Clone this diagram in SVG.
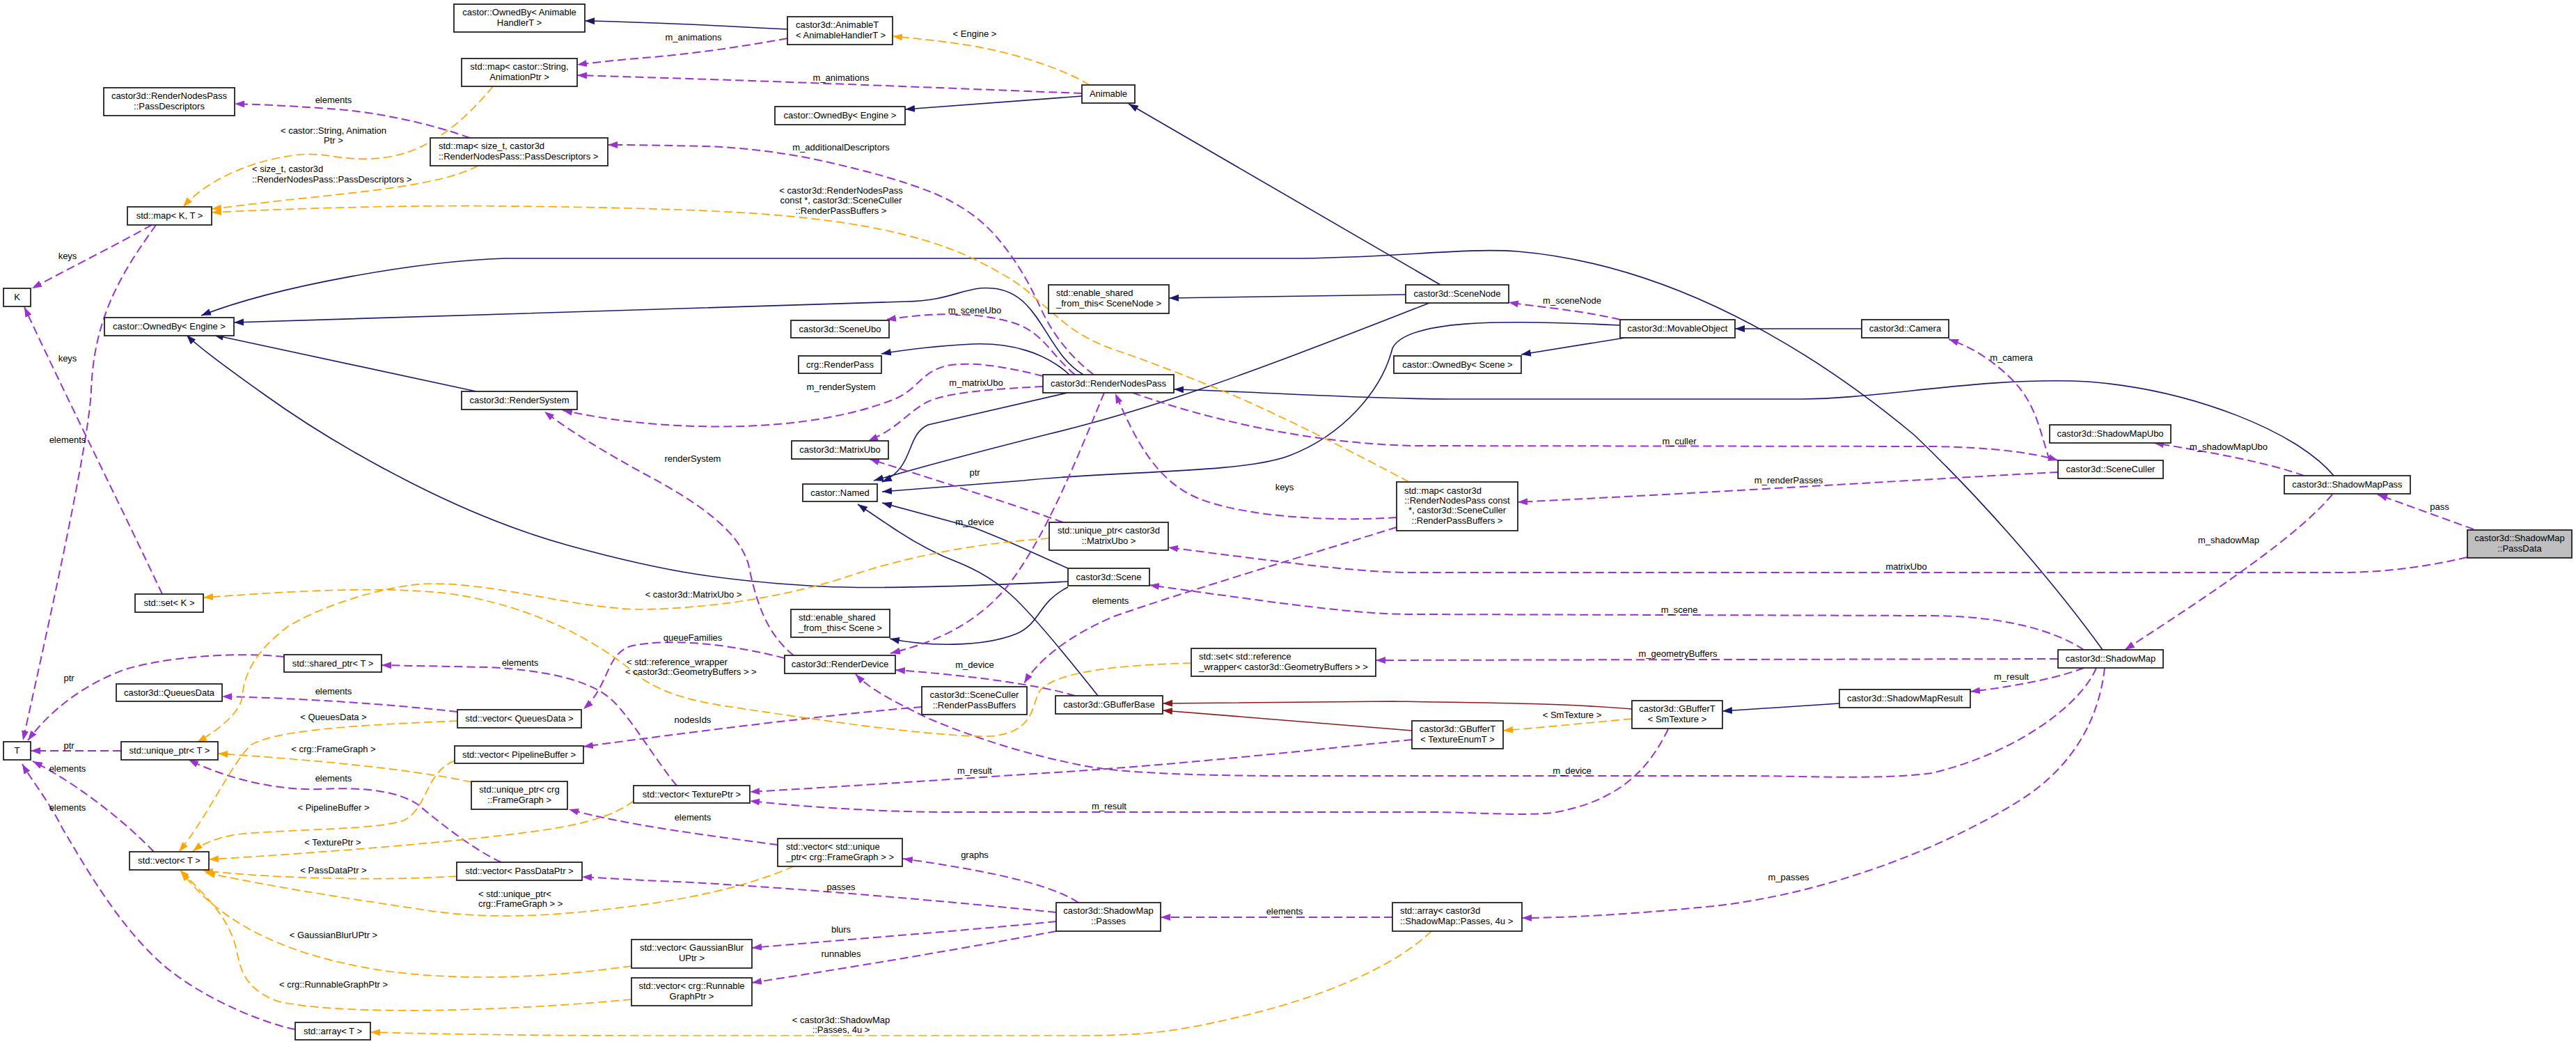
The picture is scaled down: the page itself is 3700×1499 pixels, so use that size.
<svg xmlns="http://www.w3.org/2000/svg" width="3700" height="1499" viewBox="0 0 3700 1499">
<style>
.n rect{fill:#fff;stroke:#222;stroke-width:1.8}
.n.hl rect{fill:#bfbfbf}
text{font-family:"Liberation Sans",Arial,sans-serif;font-size:13px;fill:#000}
.n text,.lb{text-anchor:middle}
.n text.l,.lb.l{text-anchor:start}
.e path{fill:none}
.inh{stroke:#191970;stroke-width:1.6;marker-end:url(#aN)}
.prot{stroke:#8b1a1a;stroke-width:1.6;marker-end:url(#aR)}
.use{stroke:#9a32cd;stroke-width:2;stroke-dasharray:12,6;marker-end:url(#aP)}
.tpl{stroke:#ffa500;stroke-width:1.7;stroke-dasharray:12,6;marker-end:url(#aO)}
</style>
<defs>
<marker id="aN" markerUnits="userSpaceOnUse" markerWidth="15" markerHeight="11" refX="14" refY="5" orient="auto"><path d="M0,0L14,5L0,10z" fill="#191970"/></marker>
<marker id="aR" markerUnits="userSpaceOnUse" markerWidth="15" markerHeight="11" refX="14" refY="5" orient="auto"><path d="M0,0L14,5L0,10z" fill="#8b1a1a"/></marker>
<marker id="aP" markerUnits="userSpaceOnUse" markerWidth="15" markerHeight="11" refX="14" refY="5" orient="auto"><path d="M0,0L14,5L0,10z" fill="#9a32cd"/></marker>
<marker id="aO" markerUnits="userSpaceOnUse" markerWidth="15" markerHeight="11" refX="14" refY="5" orient="auto"><path d="M0,0L14,5L0,10z" fill="#ffa500"/></marker>
</defs>
<rect width="3700" height="1499" fill="#fff"/>

<g id="connectors" class="e">
<!-- inheritance -->
<path class="inh" d="M1131,42 C1000,35 900,31 840,30"/>
<path class="inh" d="M1554,138 L1300,157"/>
<path class="inh" d="M2069,409 L1621,149"/>
<path class="inh" d="M2019,423 L1679,428"/>
<path class="inh" d="M2053,435 Q1850,515 1732,556 Q1615,597 1507,623 Q1400,650 1327,670 L1255,690"/>
<path class="inh" d="M1533,564 L1333,610 C1300,625 1315,670 1267,692"/>
<path class="inh" d="M2327,467 C2150,458 2020,460 2000,500 C1985,560 1930,625 1850,655 C1780,680 1600,676 1470,690 L1267,706"/>
<path class="inh" d="M1534,816 Q1491,797 1465,785 Q1438,773 1400,758 L1267,722"/>
<path class="inh" d="M1577,999 Q1485,883 1452,854 Q1420,825 1375,807 Q1330,790 1281,757 L1232,724"/>
<path class="inh" d="M1534,835 Q1279,847 1181,842 Q1084,837 1004,825 Q925,813 816,783 Q708,753 590,693 Q472,633 379,566 Q286,500 268,481"/>
<path class="inh" d="M684,562 L307,481"/>
<path class="inh" d="M1556,538 C1500,505 1495,420 1426,414 C1385,410 1370,432 1300,433 L336,463"/>
<path class="inh" d="M1536,538 C1500,505 1450,492 1397,494 C1340,497 1300,502 1266,508"/>
<path class="inh" d="M3020,933 C2960,850 2860,730 2750,625 C2600,500 2400,380 2180,361 C2100,355 2000,371 1850,371 L726,371 C600,375 400,410 289,453"/>
<path class="inh" d="M3352,683 C3300,620 3150,560 3000,548 C2850,540 2700,573 2587,573 L2086,573 C1950,573 1800,562 1686,559"/>
<path class="inh" d="M2674,472 L2492,472"/>
<path class="inh" d="M2334,485 L2185,509"/>
<path class="inh" d="M1534,843 C1490,865 1495,895 1460,910 C1410,930 1330,928 1278,917"/>
<path class="inh" d="M2642,1010 L2474,1021"/>
<path class="prot" d="M2344,1018 C2250,1010 2150,1009 2000,1007 L1670,1010"/>
<path class="prot" d="M2028,1049 L1670,1020"/>
<!-- usage -->
<path class="use" d="M1131,55 C1060,68 990,78 925,83 C880,87 850,90 829,93"/>
<path class="use" d="M1554,134 C1400,128 1100,116 925,111 L829,108"/>
<path class="use" d="M675,198 C620,178 540,160 472,156 C420,152 370,150 337,149"/>
<path class="use" d="M1571,538 Q1521,500 1494,441 Q1468,383 1432,341 Q1397,300 1338,276 Q1279,253 1190,233 Q1102,213 1013,210 Q925,208 873,208"/>
<path class="use" d="M218,323 C170,350 100,385 46,414"/>
<path class="use" d="M224,323 C180,385 135,450 131,560 C128,640 60,940 33,1063"/>
<path class="use" d="M233,853 C180,740 100,580 35,441"/>
<path class="use" d="M408,943 C330,935 230,945 177,962 C130,980 80,1010 40,1063"/>
<path class="use" d="M174,1078 L44,1078"/>
<path class="use" d="M221,1223 C190,1190 120,1130 47,1093"/>
<path class="use" d="M424,1478 C390,1472 300,1440 236,1387 C170,1330 120,1240 90,1190 C70,1150 45,1120 32,1097"/>
<path class="use" d="M972,1128 C940,1090 900,1020 873,1000 C840,975 780,962 700,958 L548,955"/>
<path class="use" d="M657,1022 C550,1010 420,1002 319,1000"/>
<path class="use" d="M1127,945 C1050,925 960,915 905,928 C870,940 875,985 838,1018"/>
<path class="use" d="M1140,941 C1100,910 1085,860 1075,810 C1060,760 1000,720 925,680 C870,650 820,620 782,591"/>
<path class="use" d="M1498,540 C1450,528 1400,518 1360,525 C1320,535 1320,560 1280,575 C1200,605 1100,615 1000,612 C920,610 860,600 808,589"/>
<path class="use" d="M1498,555 C1440,558 1360,562 1330,578 C1300,595 1290,615 1247,633"/>
<path class="use" d="M1544,538 C1510,510 1500,480 1460,465 C1400,445 1330,450 1273,459"/>
<path class="use" d="M1586,564 C1550,650 1500,780 1440,850 C1390,905 1330,925 1279,938"/>
<path class="use" d="M1527,750 C1450,722 1330,685 1249,659"/>
<path class="use" d="M3544,800 C3480,815 3420,822 3360,822 L2027,822 C1950,822 1850,808 1678,786"/>
<path class="use" d="M2993,933 C2950,905 2880,885 2775,884 L2027,882 C1950,882 1850,868 1651,840"/>
<path class="use" d="M2956,946 L1976,948"/>
<path class="use" d="M2993,959 C2960,972 2900,985 2830,993"/>
<path class="use" d="M3011,959 C2990,1010 2900,1080 2775,1110 C2700,1120 2600,1114 2500,1114 L1850,1114 C1700,1114 1600,1108 1560,1100 C1480,1085 1400,1060 1330,1030 C1280,1005 1250,990 1229,968"/>
<path class="use" d="M3023,959 C3015,1030 2980,1100 2900,1150 C2780,1225 2600,1290 2440,1303 C2350,1312 2250,1318 2186,1318"/>
<path class="use" d="M1544,999 C1500,985 1400,970 1286,962"/>
<path class="use" d="M2028,1062 C1900,1075 1700,1098 1500,1110 C1350,1120 1200,1130 1077,1137"/>
<path class="use" d="M2396,1047 C2370,1100 2330,1150 2230,1167 C2180,1172 2120,1166 2050,1166 L1350,1166 C1250,1165 1150,1158 1077,1150"/>
<path class="use" d="M1324,1015 C1200,1025 1000,1050 838,1072"/>
<path class="use" d="M2006,757 C1900,790 1700,850 1600,885 C1530,915 1490,950 1471,981"/>
<path class="use" d="M2006,743 C1900,750 1780,740 1720,715 C1660,690 1630,630 1602,565"/>
<path class="use" d="M1627,564 C1700,590 1850,635 2027,640 L2775,641 C2860,642 2920,650 2956,661"/>
<path class="use" d="M2956,678 C2800,686 2500,705 2180,721"/>
<path class="use" d="M2944,661 C2930,620 2925,580 2890,545 C2860,515 2830,498 2799,487"/>
<path class="use" d="M2327,459 C2270,445 2200,440 2167,434"/>
<path class="use" d="M3309,683 C3260,665 3180,650 3094,636"/>
<path class="use" d="M3553,760 L3415,710"/>
<path class="use" d="M3350,710 C3300,770 3180,850 3052,933"/>
<path class="use" d="M1549,1296 C1510,1270 1420,1250 1297,1233"/>
<path class="use" d="M1517,1310 C1400,1298 1100,1270 925,1264 L836,1259"/>
<path class="use" d="M1517,1323 C1400,1335 1200,1350 1080,1361"/>
<path class="use" d="M1517,1337 C1420,1355 1250,1385 1080,1411"/>
<path class="use" d="M2000,1317 L1667,1317"/>
<path class="use" d="M1117,1213 C1020,1200 900,1185 817,1162"/>
<path class="use" d="M720,1238 C680,1220 630,1180 600,1155 C570,1135 520,1130 460,1133 C400,1135 330,1120 271,1091"/>
<!-- template -->
<path class="tpl" d="M1565,122 C1520,95 1450,75 1397,66 C1350,58 1310,55 1282,52"/>
<path class="tpl" d="M708,124 C670,170 620,215 560,225 C500,235 470,218 430,222 C370,228 300,255 263,297"/>
<path class="tpl" d="M687,238 C640,262 560,272 413,287 C370,292 330,297 304,300"/>
<path class="tpl" d="M2024,692 Q1850,600 1756,561 Q1662,523 1612,506 Q1562,490 1531,465 Q1500,440 1478,420 Q1456,400 1397,371 Q1338,343 1249,326 Q1161,310 1043,304 Q925,298 728,296 Q531,294 304,305"/>
<path class="tpl" d="M657,1035 C550,1040 400,1045 360,1070 C330,1100 300,1170 257,1223"/>
<path class="tpl" d="M677,1123 C620,1110 500,1094 313,1082"/>
<path class="tpl" d="M653,1092 C610,1110 615,1160 580,1178 C540,1192 420,1190 340,1198 C310,1203 290,1212 277,1222"/>
<path class="tpl" d="M910,1150 C890,1165 860,1180 780,1192 C650,1210 450,1225 300,1234"/>
<path class="tpl" d="M656,1258 C550,1265 400,1262 292,1250"/>
<path class="tpl" d="M1140,1244 C1080,1270 1000,1290 900,1302 C800,1315 700,1322 600,1305 C500,1290 400,1275 295,1253"/>
<path class="tpl" d="M907,1387 C800,1402 680,1410 560,1395 C420,1375 320,1330 260,1251"/>
<path class="tpl" d="M907,1435 C750,1450 500,1460 400,1438 C350,1420 345,1390 340,1365 C330,1320 300,1290 258,1249"/>
<path class="tpl" d="M2056,1337 C2000,1390 1900,1430 1800,1455 C1700,1480 1650,1487 1550,1487 L925,1487 C750,1487 600,1484 532,1482"/>
<path class="tpl" d="M1507,773 C1400,780 1300,800 1220,827 C1150,850 1050,872 925,875 C830,875 720,838 620,838 C560,838 460,870 413,900 C360,940 350,975 348,1000 C345,1025 310,1050 283,1066"/>
<path class="tpl" d="M1711,952 C1600,955 1520,965 1495,990 C1480,1010 1490,1050 1425,1057 C1350,1060 1150,1030 1050,1015 C980,1005 940,990 910,965 C850,915 760,870 650,853 C550,840 400,850 292,858"/>
<path class="tpl" d="M2344,1032 C2280,1038 2220,1044 2159,1049"/>
</g>

<g id="labels">
<text class="lb" x="996" y="57.5">m_animations</text>
<text class="lb" x="1208" y="115.5">m_animations</text>
<text class="lb" x="1400" y="52.5">&lt; Engine &gt;</text>
<text class="lb" x="479" y="147.5">elements</text>
<text class="lb" x="479" y="191.5">&lt; castor::String, Animation</text>
<text class="lb" x="479" y="205.5">Ptr &gt;</text>
<text class="lb l" x="362" y="246.5">&lt; size_t, castor3d</text>
<text class="lb l" x="362" y="261.5">::RenderNodesPass::PassDescriptors &gt;</text>
<text class="lb" x="1208" y="215.5">m_additionalDescriptors</text>
<text class="lb" x="1208" y="277.5">&lt; castor3d::RenderNodesPass</text>
<text class="lb" x="1208" y="291.5">const *, castor3d::SceneCuller</text>
<text class="lb" x="1208" y="306.5">::RenderPassBuffers &gt;</text>
<text class="lb" x="97" y="371.5">keys</text>
<text class="lb" x="97" y="518.5">keys</text>
<text class="lb" x="97" y="635.5">elements</text>
<text class="lb" x="1400" y="449.5">m_sceneUbo</text>
<text class="lb" x="2258" y="435.5">m_sceneNode</text>
<text class="lb" x="2889" y="517.5">m_camera</text>
<text class="lb" x="1208" y="559.5">m_renderSystem</text>
<text class="lb" x="1402" y="553.5">m_matrixUbo</text>
<text class="lb" x="2412" y="637.5">m_culler</text>
<text class="lb" x="3201" y="645.5">m_shadowMapUbo</text>
<text class="lb" x="995" y="662.5">renderSystem</text>
<text class="lb" x="1400" y="682.5">ptr</text>
<text class="lb" x="1845" y="703.5">keys</text>
<text class="lb" x="2569" y="693.5">m_renderPasses</text>
<text class="lb" x="3504" y="731.5">pass</text>
<text class="lb" x="1400" y="753.5">m_device</text>
<text class="lb" x="3201" y="779.5">m_shadowMap</text>
<text class="lb" x="2738" y="817.5">matrixUbo</text>
<text class="lb" x="996" y="857.5">&lt; castor3d::MatrixUbo &gt;</text>
<text class="lb" x="1595" y="866.5">elements</text>
<text class="lb" x="2412" y="879.5">m_scene</text>
<text class="lb" x="995" y="919.5">queueFamilies</text>
<text class="lb" x="2410" y="942.5">m_geometryBuffers</text>
<text class="lb l" x="900" y="954.5">&lt; std::reference_wrapper</text>
<text class="lb l" x="898" y="968.5">&lt; castor3d::GeometryBuffers &gt; &gt;</text>
<text class="lb" x="747" y="955.5">elements</text>
<text class="lb" x="1400" y="958.5">m_device</text>
<text class="lb" x="99" y="977.5">ptr</text>
<text class="lb" x="2889" y="975.5">m_result</text>
<text class="lb" x="479" y="996.5">elements</text>
<text class="lb" x="479" y="1033.5">&lt; QueuesData &gt;</text>
<text class="lb" x="2258" y="1030.5">&lt; SmTexture &gt;</text>
<text class="lb" x="995" y="1037.5">nodesIds</text>
<text class="lb" x="99" y="1074.5">ptr</text>
<text class="lb" x="479" y="1079.5">&lt; crg::FrameGraph &gt;</text>
<text class="lb" x="97" y="1107.5">elements</text>
<text class="lb" x="1400" y="1110.5">m_result</text>
<text class="lb" x="2258" y="1110.5">m_device</text>
<text class="lb" x="479" y="1121.5">elements</text>
<text class="lb" x="97" y="1163.5">elements</text>
<text class="lb" x="479" y="1163.5">&lt; PipelineBuffer &gt;</text>
<text class="lb" x="1593" y="1161.5">m_result</text>
<text class="lb" x="995" y="1177.5">elements</text>
<text class="lb" x="478" y="1213.5">&lt; TexturePtr &gt;</text>
<text class="lb" x="1400" y="1231.5">graphs</text>
<text class="lb" x="479" y="1253.5">&lt; PassDataPtr &gt;</text>
<text class="lb" x="2569" y="1263.5">m_passes</text>
<text class="lb" x="1208" y="1277.5">passes</text>
<text class="lb l" x="687" y="1287.5">&lt; std::unique_ptr&lt;</text>
<text class="lb l" x="687" y="1301.5">crg::FrameGraph &gt; &gt;</text>
<text class="lb" x="1845" y="1312.5">elements</text>
<text class="lb" x="1208" y="1338.5">blurs</text>
<text class="lb" x="479" y="1346.5">&lt; GaussianBlurUPtr &gt;</text>
<text class="lb" x="1208" y="1373.5">runnables</text>
<text class="lb" x="479" y="1417.5">&lt; crg::RunnableGraphPtr &gt;</text>
<text class="lb" x="1208" y="1468.5">&lt; castor3d::ShadowMap</text>
<text class="lb" x="1208" y="1482.5">::Passes, 4u &gt;</text>
</g>

<g id="n01" class="n"><rect x="652" y="6" width="188" height="40"/><text x="746" y="22">castor::OwnedBy&lt; Animable</text><text x="746" y="37">HandlerT &gt;</text></g>
<g id="n02" class="n"><rect x="1131" y="24" width="151" height="40"/><text class="l" x="1143" y="40">castor3d::AnimableT</text><text class="l" x="1143" y="55">&lt; AnimableHandlerT &gt;</text></g>
<g id="n03" class="n"><rect x="663" y="84" width="166" height="40"/><text x="746" y="100">std::map&lt; castor::String,</text><text x="746" y="115">AnimationPtr &gt;</text></g>
<g id="n04" class="n"><rect x="149" y="126" width="188" height="40"/><text x="243" y="142">castor3d::RenderNodesPass</text><text x="243" y="157">::PassDescriptors</text></g>
<g id="n05" class="n"><rect x="1554" y="122" width="76" height="26"/><text x="1592" y="139">Animable</text></g>
<g id="n06" class="n"><rect x="1113" y="153" width="187" height="26"/><text x="1206.5" y="170">castor::OwnedBy&lt; Engine &gt;</text></g>
<g id="n07" class="n"><rect x="618" y="198" width="255" height="40"/><text class="l" x="630" y="214">std::map&lt; size_t, castor3d</text><text class="l" x="630" y="229">::RenderNodesPass::PassDescriptors &gt;</text></g>
<g id="n08" class="n"><rect x="183" y="297" width="121" height="26"/><text x="243.5" y="314">std::map&lt; K, T &gt;</text></g>
<g id="n09" class="n"><rect x="5" y="414" width="39" height="26"/><text x="24.5" y="431">K</text></g>
<g id="n10" class="n"><rect x="150" y="456" width="186" height="26"/><text x="243" y="473">castor::OwnedBy&lt; Engine &gt;</text></g>
<g id="n11" class="n"><rect x="1506" y="409" width="173" height="41"/><text class="l" x="1517" y="425">std::enable_shared</text><text class="l" x="1517" y="440">_from_this&lt; SceneNode &gt;</text></g>
<g id="n12" class="n"><rect x="1136" y="460" width="141" height="25"/><text x="1206.5" y="477">castor3d::SceneUbo</text></g>
<g id="n13" class="n"><rect x="2019" y="409" width="148" height="26"/><text x="2093" y="426">castor3d::SceneNode</text></g>
<g id="n14" class="n"><rect x="2327" y="459" width="165" height="26"/><text x="2409.5" y="476">castor3d::MovableObject</text></g>
<g id="n15" class="n"><rect x="2674" y="459" width="125" height="26"/><text x="2736.5" y="476">castor3d::Camera</text></g>
<g id="n16" class="n"><rect x="663" y="562" width="166" height="26"/><text x="746" y="579">castor3d::RenderSystem</text></g>
<g id="n17" class="n"><rect x="1147" y="511" width="119" height="25"/><text x="1206.5" y="528">crg::RenderPass</text></g>
<g id="n18" class="n"><rect x="1498" y="538" width="188" height="26"/><text x="1592" y="555">castor3d::RenderNodesPass</text></g>
<g id="n19" class="n"><rect x="2002" y="511" width="183" height="25"/><text x="2093.5" y="528">castor::OwnedBy&lt; Scene &gt;</text></g>
<g id="n20" class="n"><rect x="1137" y="633" width="139" height="26"/><text x="1206.5" y="650">castor3d::MatrixUbo</text></g>
<g id="n21" class="n"><rect x="1153" y="695" width="107" height="25"/><text x="1206.5" y="712">castor::Named</text></g>
<g id="n22" class="n"><rect x="2006" y="692" width="174" height="70"/><text class="l" x="2017" y="709">std::map&lt; castor3d</text><text x="2093" y="723">::RenderNodesPass const</text><text x="2093" y="737"> *, castor3d::SceneCuller</text><text x="2093" y="752">::RenderPassBuffers &gt;</text></g>
<g id="n23" class="n"><rect x="2944" y="610" width="174" height="26"/><text x="3031" y="627">castor3d::ShadowMapUbo</text></g>
<g id="n24" class="n"><rect x="2956" y="661" width="151" height="26"/><text x="3031.5" y="678">castor3d::SceneCuller</text></g>
<g id="n25" class="n"><rect x="3281" y="683" width="181" height="26"/><text x="3371.5" y="700">castor3d::ShadowMapPass</text></g>
<g id="n26" class="n hl"><rect x="3544" y="761" width="150" height="40"/><text x="3619" y="777">castor3d::ShadowMap</text><text x="3619" y="792">::PassData</text></g>
<g id="n27" class="n"><rect x="1507" y="750" width="171" height="40"/><text x="1592.5" y="766">std::unique_ptr&lt; castor3d</text><text x="1592.5" y="781">::MatrixUbo &gt;</text></g>
<g id="n28" class="n"><rect x="1534" y="816" width="117" height="25"/><text x="1592.5" y="833">castor3d::Scene</text></g>
<g id="n29" class="n"><rect x="194" y="853" width="98" height="26"/><text x="243" y="870">std::set&lt; K &gt;</text></g>
<g id="n30" class="n"><rect x="1136" y="875" width="142" height="40"/><text class="l" x="1147" y="891">std::enable_shared</text><text class="l" x="1147" y="906">_from_this&lt; Scene &gt;</text></g>
<g id="n31" class="n"><rect x="1711" y="931" width="265" height="40"/><text class="l" x="1722" y="947">std::set&lt; std::reference</text><text class="l" x="1722" y="962">_wrapper&lt; castor3d::GeometryBuffers &gt; &gt;</text></g>
<g id="n32" class="n"><rect x="2956" y="933" width="151" height="26"/><text x="3031.5" y="950">castor3d::ShadowMap</text></g>
<g id="n33" class="n"><rect x="408" y="940" width="140" height="25"/><text x="478" y="957">std::shared_ptr&lt; T &gt;</text></g>
<g id="n34" class="n"><rect x="1127" y="941" width="159" height="26"/><text x="1206.5" y="958">castor3d::RenderDevice</text></g>
<g id="n35" class="n"><rect x="167" y="982" width="152" height="25"/><text x="243" y="999">castor3d::QueuesData</text></g>
<g id="n36" class="n"><rect x="1324" y="986" width="151" height="40"/><text x="1399.5" y="1002">castor3d::SceneCuller</text><text x="1399.5" y="1017">::RenderPassBuffers</text></g>
<g id="n37" class="n"><rect x="2642" y="990" width="188" height="26"/><text x="2736" y="1007">castor3d::ShadowMapResult</text></g>
<g id="n38" class="n"><rect x="1516" y="999" width="154" height="26"/><text x="1593" y="1016">castor3d::GBufferBase</text></g>
<g id="n39" class="n"><rect x="2344" y="1006" width="130" height="40"/><text x="2409" y="1022">castor3d::GBufferT</text><text x="2409" y="1037">&lt; SmTexture &gt;</text></g>
<g id="n40" class="n"><rect x="657" y="1019" width="178" height="26"/><text x="746" y="1036">std::vector&lt; QueuesData &gt;</text></g>
<g id="n41" class="n"><rect x="2028" y="1035" width="131" height="40"/><text x="2093.5" y="1051">castor3d::GBufferT</text><text x="2093.5" y="1066">&lt; TextureEnumT &gt;</text></g>
<g id="n42" class="n"><rect x="5" y="1065" width="39" height="26"/><text x="24.5" y="1082">T</text></g>
<g id="n43" class="n"><rect x="174" y="1065" width="139" height="26"/><text x="243.5" y="1082">std::unique_ptr&lt; T &gt;</text></g>
<g id="n44" class="n"><rect x="653" y="1071" width="185" height="25"/><text x="745.5" y="1088">std::vector&lt; PipelineBuffer &gt;</text></g>
<g id="n45" class="n"><rect x="677" y="1122" width="138" height="40"/><text x="746" y="1138">std::unique_ptr&lt; crg</text><text x="746" y="1153">::FrameGraph &gt;</text></g>
<g id="n46" class="n"><rect x="910" y="1128" width="167" height="25"/><text x="993.5" y="1145">std::vector&lt; TexturePtr &gt;</text></g>
<g id="n47" class="n"><rect x="1117" y="1204" width="179" height="40"/><text class="l" x="1129" y="1220">std::vector&lt; std::unique</text><text class="l" x="1129" y="1235">_ptr&lt; crg::FrameGraph &gt; &gt;</text></g>
<g id="n48" class="n"><rect x="186" y="1223" width="114" height="26"/><text x="243" y="1240">std::vector&lt; T &gt;</text></g>
<g id="n49" class="n"><rect x="656" y="1238" width="180" height="26"/><text x="746" y="1255">std::vector&lt; PassDataPtr &gt;</text></g>
<g id="n50" class="n"><rect x="1517" y="1296" width="150" height="41"/><text x="1592" y="1312">castor3d::ShadowMap</text><text x="1592" y="1327">::Passes</text></g>
<g id="n51" class="n"><rect x="2000" y="1296" width="186" height="41"/><text class="l" x="2011" y="1312">std::array&lt; castor3d</text><text class="l" x="2011" y="1327">::ShadowMap::Passes, 4u &gt;</text></g>
<g id="n52" class="n"><rect x="907" y="1349" width="173" height="41"/><text x="993.5" y="1365">std::vector&lt; GaussianBlur</text><text x="993.5" y="1380">UPtr &gt;</text></g>
<g id="n53" class="n"><rect x="907" y="1404" width="173" height="40"/><text x="993.5" y="1420">std::vector&lt; crg::Runnable</text><text x="993.5" y="1435">GraphPtr &gt;</text></g>
<g id="n54" class="n"><rect x="424" y="1468" width="108" height="25"/><text x="478" y="1485">std::array&lt; T &gt;</text></g>
</svg>
